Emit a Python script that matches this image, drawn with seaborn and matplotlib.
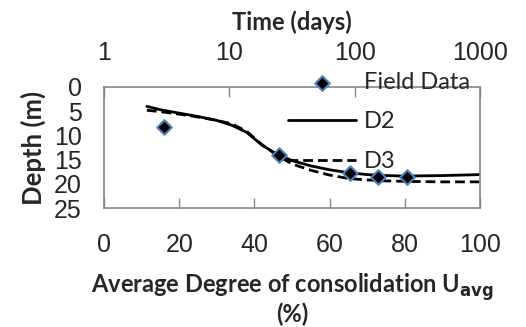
import matplotlib
matplotlib.use("Agg")
import matplotlib.pyplot as plt
import seaborn as sns
import pandas as pd

# Data
u_field = [16, 46.5, 65.5, 73, 80.5]
depth_field = [8.2, 14.0, 17.8, 18.6, 18.6]

u_curve = [11.4, 15, 20, 25, 30, 34, 38, 42, 46, 50, 55, 60, 65, 70, 75, 80, 90, 100]
depth_d2 = [4.0, 4.7, 5.4, 6.1, 6.9, 7.9, 9.4, 12.0, 13.9, 15.2, 16.3, 17.1, 17.7, 18.1, 18.3, 18.4, 18.3, 18.1]
depth_d3 = [4.8, 5.1, 5.6, 6.2, 6.9, 7.6, 9.2, 11.9, 14.1, 15.9, 17.2, 18.2, 18.9, 19.2, 19.4, 19.5, 19.6, 19.6]

x_ticks = [0, 20, 40, 60, 80, 100]
y_ticks = [0, 5, 10, 15, 20, 25]
time_ticks = [1, 10, 100, 1000]

field = pd.DataFrame({"U": u_field, "Depth": depth_field})
curves = pd.DataFrame({"U": u_curve, "D2": depth_d2, "D3": depth_d3})

sns.set_style("white")
plt.rcParams["font.family"] = ["Liberation Sans", "DejaVu Sans"]

grey = "#868686"
fig = plt.figure(figsize=(5.26, 3.27), dpi=100)
ax = fig.add_axes([104 / 526, 1 - 208 / 327, 376 / 526, 121 / 327])

sns.lineplot(data=curves, x="U", y="D2", ax=ax, color="black", lw=2.0, label="D2")
sns.lineplot(data=curves, x="U", y="D3", ax=ax, color="black", lw=2.0,
             linestyle=(0, (3.5, 1.8)), label="D3")
sns.scatterplot(data=field, x="U", y="Depth", ax=ax, marker="D", s=55,
                color="black", edgecolor="#4F81BD", linewidth=1.5,
                label="Field Data", zorder=5)

ax.set_xlim(0, 100)
ax.set_ylim(25, 0)
ax.set_xticks(x_ticks)
ax.set_yticks(y_ticks)
ax.tick_params(axis="both", direction="in", length=7, width=1, color=grey,
               labelsize=18)
ax.tick_params(axis="x", pad=18)
ax.tick_params(axis="y", pad=16)
for s in ax.spines.values():
    s.set_color(grey)
    s.set_linewidth(1.2)

lab_font = dict(family=["Lato", "DejaVu Sans"], weight="bold", size=17)
ax.set_xlabel("Average Degree of consolidation U$_{\\mathbf{avg}}$\n(%)",
              fontdict=lab_font, labelpad=10, linespacing=1.0)
ax.set_ylabel("Depth (m)", fontdict=dict(lab_font, size=18.5), labelpad=6)

# top time axis (log)
ax2 = ax.twiny()
ax2.set_xscale("log")
ax2.set_xlim(1, 1000)
ax2.set_xticks(time_ticks)
ax2.set_xticklabels([str(t) for t in time_ticks])
ax2.minorticks_off()
ax2.tick_params(axis="x", direction="in", length=7, width=1, color=grey,
                labelsize=18, pad=16)
for s in ax2.spines.values():
    s.set_visible(False)
ax2.set_xlabel("Time (days)", fontdict=lab_font, labelpad=8)

handles, labels = ax.get_legend_handles_labels()
order = [labels.index(l) for l in ["Field Data", "D2", "D3"]]
ax.get_legend().remove()
leg = fig.legend([handles[i] for i in order], [labels[i] for i in order],
                 loc="upper left", bbox_to_anchor=(288 / 526, 1 - 72 / 327),
                 frameon=False, handlelength=2.9, handletextpad=0.3,
                 labelspacing=0.78, borderpad=0, borderaxespad=0,
                 prop={"family": ["Lato", "DejaVu Sans"], "size": 17})

fig.savefig("out.png", dpi=100)
